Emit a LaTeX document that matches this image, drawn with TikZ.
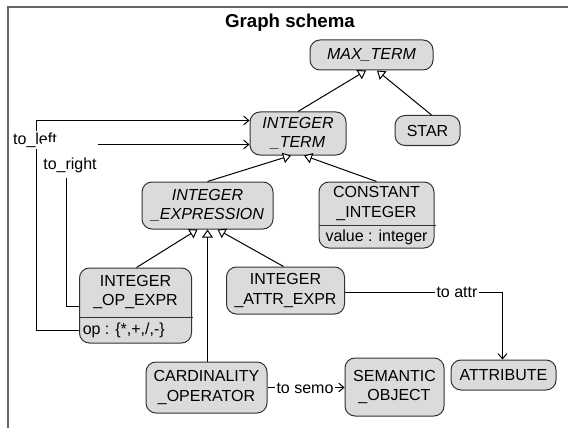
\documentclass[tikz,border=0pt]{standalone}
\usepackage{fontspec}
\setmainfont{Liberation Sans}
\usetikzlibrary{arrows.meta,calc}

\tikzset{
  cls/.style={draw=black!80, fill=black!14, rounded corners=7.5pt, line width=0.75pt,
              inner sep=0pt, align=center, font=\fontsize{12}{14.5}\selectfont},
  sz/.style 2 args={minimum width=#1*0.75pt, minimum height=#2*0.75pt},
  abstract/.style={font=\itshape\fontsize{12}{14.5}\selectfont},
  txt/.style={inner sep=0pt, align=center, font=\fontsize{12}{14.5}\selectfont},
  edge/.style={line width=0.75pt, black},
  isa/.style={edge, -{Triangle[length=6pt,width=8pt,fill=white]}},
  ref/.style={edge, -{Straight Barb[length=3.75pt,width=6.5pt]}},
  lbl/.style={fill=white, inner sep=1pt, font=\fontsize{12}{14}\selectfont},
  divider/.style={line width=0.75pt, black!80},
}

\begin{document}
\begin{tikzpicture}[x=0.75pt,y=-0.75pt]
\useasboundingbox (0,0) rectangle (568,428);

% frame of the schema
\draw[black!60, line width=1.5pt] (8,440) -- (8,7) -- (580,7);
\node[font=\bfseries\fontsize{14}{16}\selectfont] (title) at (290,23) {Graph schema};

% classes
\node[cls, abstract, sz={123}{30}] (mt) at (371.5,55) {MAX\_TERM};
\node[cls, abstract, sz={96}{43}] (it) at (298,133.5) {INTEGER\\\_TERM};
\node[cls, sz={65}{30}] (star) at (427.5,130.5) {STAR};
\node[cls, abstract, sz={131}{47}] (ie) at (207.5,205.5) {INTEGER\\\_EXPRESSION};

% CONSTANT_INTEGER with attribute compartment
\node[cls, sz={115}{66}] (ci) at (376.5,215) {};
\node[txt] (ciname) at (376.5,203.5) {CONSTANT\\\_INTEGER};
\node[txt] (ciattr) at (376.5,237) {value : integer};
\coordinate (cidiv) at (0,225);
\draw[divider] (ci.west |- cidiv) -- ([xshift=0.75pt]ci.east |- cidiv);

% INTEGER_OP_EXPR with attribute compartment
\node[cls, sz={112}{75}] (ioe) at (135.5,305.5) {};
\node[txt] (ioename) at (135.5,292) {INTEGER\\\_OP\_EXPR};
\node[txt, anchor=west] (ioeattr) at (82.5,330) {op : \{*,+,/,-\}};
\coordinate (ioediv) at (0,317);
\draw[divider] (ioe.west |- ioediv) -- ([xshift=0.75pt]ioe.east |- ioediv);

\node[cls, sz={118}{47}] (iae) at (285.5,290.5) {INTEGER\\\_ATTR\_EXPR};
\node[cls, sz={121}{51}] (card) at (206.5,387.5) {CARDINALITY\\\_OPERATOR};
\node[cls, sz={99}{58}] (sem) at (394.5,387) {SEMANTIC\\\_OBJECT};
\node[cls, sz={105}{30}] (attr) at (503.5,375) {ATTRIBUTE};

% generalizations
\draw[isa] (it.north) -- ($(mt.south)+(-5.5,0)$);
\draw[isa] ($(star.north)+(4,0)$) -- ($(mt.south)+(5.5,0)$);
\draw[isa] (ie.north) -- ($(it.south)+(-7,0)$);
\draw[isa] (ci.north) -- ($(it.south)+(6,0)$);
\draw[isa] ($(ioe.north)+(1,0)$) -- ($(ie.south)+(-10,0)$);
\draw[isa] ($(iae.north)+(-2,0)$) -- ($(ie.south)+(10,0)$);
\draw[isa] ($(card.north)+(1,0)$) -- (ie.south);

% associations
\coordinate (attrbend) at (502.5,292);
\draw[ref] (iae.east |- attrbend) -- (attrbend) -- (attr.north -| attrbend);
\node[lbl] (attrlbl) at (457,292) {to attr};

\draw[ref] (card.east) -- (card.east -| sem.west);
\node[lbl] (semolbl) at (305,388) {to semo};

\coordinate (lcorner) at (36,120.5);
\coordinate (lrow) at (0,330);
\draw[ref] (ioe.west |- lrow) -| (lcorner) -- (lcorner -| it.west);
\node[lbl] (leftlbl) at (35,140) {to\_left};

\coordinate (rcorner) at (66,144.5);
\coordinate (rrow) at (0,306);
\draw[ref] (ioe.west |- rrow) -| (rcorner) -- (rcorner -| it.west);
\node[lbl, anchor=base, text height=19.5pt, text depth=5.25pt] (rightlbl) at (70,169.5) {to\_right};
\end{tikzpicture}
\end{document}
